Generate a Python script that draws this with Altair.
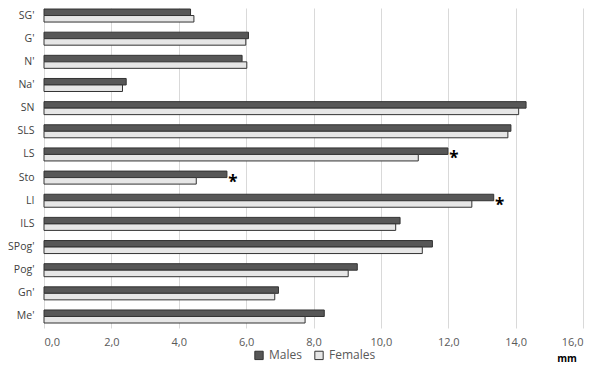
import altair as alt
import pandas as pd

categories = ["SG'", "G'", "N'", "Na'", "SN", "SLS", "LS", "Sto", "LI", "ILS", "SPog'", "Pog'", "Gn'", "Me'"]
males = [4.35, 6.07, 5.88, 2.44, 14.31, 13.86, 11.99, 5.43, 13.35, 10.57, 11.53, 9.30, 6.96, 8.32]
females = [4.45, 5.99, 6.02, 2.33, 14.09, 13.77, 11.11, 4.52, 12.70, 10.44, 11.23, 9.03, 6.85, 7.75]
significant = ["LS", "Sto", "LI"]
groups = ["Males", "Females"]
x_ticks = [0, 2, 4, 6, 8, 10, 12, 14, 16]

rows = []
for c, m, f in zip(categories, males, females):
    rows.append({"cat": c, "group": "Males", "value": m})
    rows.append({"cat": c, "group": "Females", "value": f})
df = pd.DataFrame(rows)
stars = pd.DataFrame({"cat": significant,
                      "value": [males[categories.index(c)] for c in significant],
                      "star": ["*"] * len(significant)})

FONT = "Open Sans"
yscale = alt.Scale(domain=categories, paddingInner=0.438, paddingOuter=0.13, align=0.17)
xscale = alt.Scale(domain=[0, 16], nice=False)

bars = alt.Chart(df).mark_bar(stroke="#333333", strokeWidth=1).encode(
    x=alt.X("value:Q", scale=xscale,
            axis=alt.Axis(values=x_ticks, title=None, grid=True, gridColor="#d9d9d9",
                          domain=False, ticks=False, labelPadding=8,
                          labelExpr="replace(format(datum.value, '.1f'), '.', ',')")),
    y=alt.Y("cat:N", scale=yscale, sort=categories,
            axis=alt.Axis(title=None, domain=False, ticks=False, labelPadding=10)),
    yOffset=alt.YOffset("group:N", scale=alt.Scale(domain=groups, paddingInner=0, paddingOuter=0)),
    color=alt.Color("group:N", scale=alt.Scale(domain=groups, range=["#575757", "#e6e6e6"]),
                    legend=alt.Legend(title=None, orient="none", direction="horizontal",
                                      legendX=209, legendY=341, symbolType="square",
                                      symbolSize=70, symbolStrokeColor="#333333",
                                      symbolStrokeWidth=1, columnPadding=10,
                                      labelFontSize=12, labelFont=FONT, labelColor="#595959",
                                      padding=0)),
)

star_text = alt.Chart(stars).mark_text(text="*", fontSize=17, fontWeight="bold",
                                        color="#000000", align="center", baseline="middle",
                                        dx=6, dy=5, font=FONT).encode(
    x=alt.X("value:Q", scale=xscale),
    y=alt.Y("cat:N", scale=yscale, sort=categories),
)

mm = alt.Chart(pd.DataFrame({"t": ["mm"]})).mark_text(
    fontSize=10, fontWeight="bold", font=FONT, color="#000000",
    align="center", baseline="middle").encode(
    text="t:N", x=alt.value(523), y=alt.value(351))

chart = alt.layer(bars, star_text, mm).properties(
    width=539, height=320,
    padding={"left": 36, "top": 0, "right": 9, "bottom": 37},
    autosize=alt.AutoSizeParams(type="none"),
).configure_view(stroke=None).configure_axis(
    labelFont=FONT, labelFontSize=11, labelColor="#595959"
).configure_axisY(labelColor="#404040", labelFontSize=10.5)

chart.save("out.html", embed_options={"renderer": "svg", "actions": False})
